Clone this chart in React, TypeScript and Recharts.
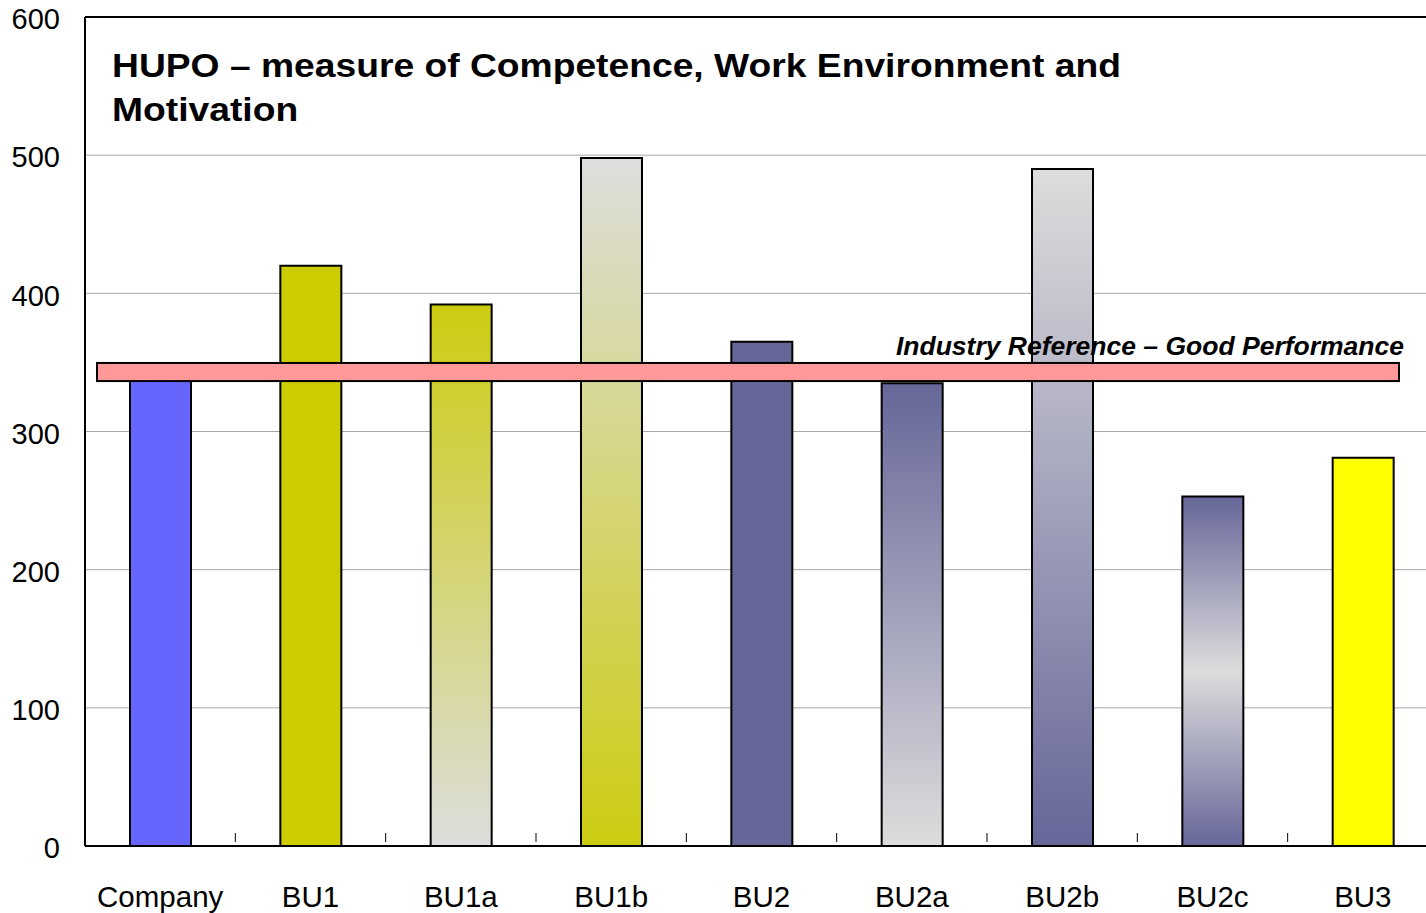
import React from "react";
import {
  BarChart,
  Bar,
  Cell,
  XAxis,
  YAxis,
  CartesianGrid,
  ReferenceArea,
  ReferenceLine,
} from "recharts";

const categories = ["Company", "BU1", "BU1a", "BU1b", "BU2", "BU2a", "BU2b", "BU2c", "BU3"];
const scores = [340, 420, 392, 498, 365, 335, 490, 253, 281];
const yTicks = [0, 100, 200, 300, 400, 500, 600];
const industryLow = 336.5;
const industryHigh = 349.6;

const title = ["HUPO – measure of Competence, Work Environment and", "Motivation"];
const industryLabel = "Industry Reference – Good Performance";

const barFills = [
  "#6666ff",
  "#cccc00",
  "url(#yellowToGrey)",
  "url(#greyToYellow)",
  "#666699",
  "url(#blueToGrey)",
  "url(#greyToBlue)",
  "url(#blueGreyBlue)",
  "#ffff00",
];

const data = categories.map((name, i) => ({ name, score: scores[i] }));

const FONT = "'Liberation Sans', Arial, sans-serif";
const CHART_W = 1438;
const CHART_H = 913;
const Y_AXIS_W = 85;
const STEP = (CHART_W - Y_AXIS_W) / categories.length;

function CategoryTick(props: any) {
  const { x, y, payload, index } = props;
  const axisY = y - 40;
  return (
    <g>
      <text x={x} y={y} dy="0.71em" textAnchor="middle" fontSize={29.5} fill="#000" fontFamily={FONT}>
        {payload.value}
      </text>
      {index < categories.length - 1 && (
        <line x1={x + STEP / 2} x2={x + STEP / 2} y1={axisY - 13} y2={axisY - 4} stroke="#000" strokeWidth={1} />
      )}
    </g>
  );
}

function ValueTick(props: any) {
  const { x, y, payload } = props;
  return (
    <text x={x} y={y + 2} dy="0.355em" textAnchor="end" fontSize={29} fill="#000" fontFamily={FONT}>
      {payload.value}
    </text>
  );
}

function IndustryBand(props: any) {
  const { x, y, height } = props;
  const left = x + 12;
  const w = 1302;
  return (
    <g>
      <rect x={left} y={y} width={w} height={height} fill="#ff9999" stroke="#000" strokeWidth={2} />
      <text
        x={left + w + 5}
        y={y - 8}
        textAnchor="end"
        fontSize={26.5}
        fontWeight="bold"
        fontStyle="italic"
        fontFamily={FONT}
        fill="#000"
      >
        {industryLabel}
      </text>
    </g>
  );
}

export default function App() {
  return (
    <div style={{ position: "absolute", left: 0, top: 0, width: 1426, height: CHART_H, overflow: "hidden", background: "#fff" }}>
      <BarChart
        width={CHART_W}
        height={CHART_H}
        data={data}
        margin={{ top: 17, right: 0, bottom: 0, left: 0 }}
        barCategoryGap={0}
      >
        <defs>
          <linearGradient id="yellowToGrey" x1="0" y1="0" x2="0" y2="1">
            <stop offset="0%" stopColor="#cccc11" />
            <stop offset="100%" stopColor="#dddddd" />
          </linearGradient>
          <linearGradient id="greyToYellow" x1="0" y1="0" x2="0" y2="1">
            <stop offset="0%" stopColor="#dddddd" />
            <stop offset="100%" stopColor="#cccc11" />
          </linearGradient>
          <linearGradient id="blueToGrey" x1="0" y1="0" x2="0" y2="1">
            <stop offset="0%" stopColor="#666699" />
            <stop offset="100%" stopColor="#dddddd" />
          </linearGradient>
          <linearGradient id="greyToBlue" x1="0" y1="0" x2="0" y2="1">
            <stop offset="0%" stopColor="#dddddd" />
            <stop offset="100%" stopColor="#666699" />
          </linearGradient>
          <linearGradient id="blueGreyBlue" x1="0" y1="0" x2="0" y2="1">
            <stop offset="0%" stopColor="#666699" />
            <stop offset="50%" stopColor="#dddddd" />
            <stop offset="100%" stopColor="#666699" />
          </linearGradient>
        </defs>
        <CartesianGrid vertical={false} stroke="#a6a6a6" strokeWidth={1} />
        <XAxis
          dataKey="name"
          height={CHART_H - 17 - 829}
          axisLine={{ stroke: "#000", strokeWidth: 2 }}
          tickLine={false}
          tickSize={0}
          tickMargin={40}
          interval={0}
          tick={<CategoryTick />}
        />
        <YAxis
          width={Y_AXIS_W}
          domain={[0, 600]}
          ticks={yTicks}
          interval={0}
          axisLine={{ stroke: "#000", strokeWidth: 2 }}
          tickLine={false}
          tickSize={0}
          tickMargin={25}
          tick={<ValueTick />}
        />
        <ReferenceLine y={600} stroke="#000" strokeWidth={2} />
        <Bar dataKey="score" barSize={61} stroke="#000" strokeWidth={2} isAnimationActive={false}>
          {data.map((d, i) => (
            <Cell key={d.name} fill={barFills[i]} />
          ))}
        </Bar>
        <ReferenceArea
          y1={industryLow}
          y2={industryHigh}
          zIndex={1000}
          ifOverflow="visible"
          shape={<IndustryBand />}
        />
      </BarChart>
      <div
        style={{
          position: "absolute",
          left: 112,
          top: 43,
          fontFamily: FONT,
          fontWeight: "bold",
          fontSize: 34,
          lineHeight: "44px",
          color: "#000",
          whiteSpace: "nowrap",
          transform: "scaleX(1.095)",
          transformOrigin: "left top",
        }}
      >
        {title[0]}
        <br />
        {title[1]}
      </div>
    </div>
  );
}
